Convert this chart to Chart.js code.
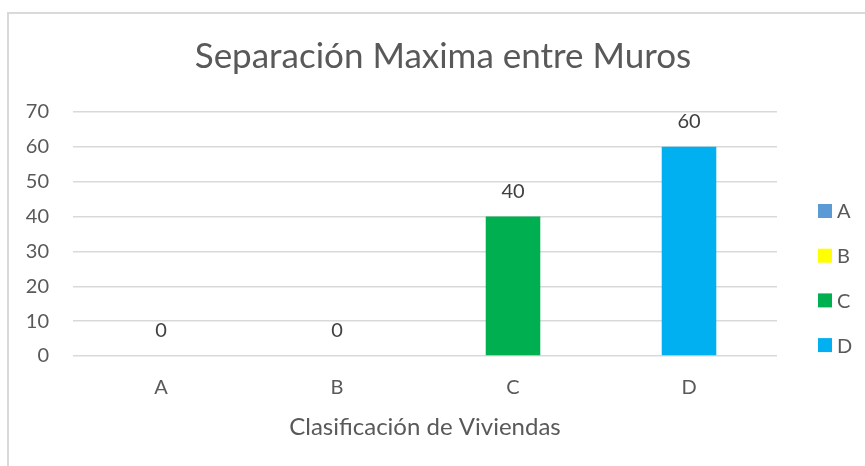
<!DOCTYPE html>
<html><head><meta charset="utf-8">
<script src="https://cdn.jsdelivr.net/npm/chart.js@4/dist/chart.umd.min.js"></script>
<style>html,body{margin:0;padding:0;background:#fff}#wrap{width:865px;height:466px;position:relative}</style>
</head><body><div id="wrap"><canvas id="c" width="865" height="466"></canvas></div>
<script>
const categories = ['A', 'B', 'C', 'D'];
const values = [0, 0, 40, 60];
const barColors = ['#5B9BD5', '#FFFF00', '#00B050', '#00B0F0'];
const yMin = 0, yMax = 70, yStep = 10;
const titleText = 'Separación Maxima entre Muros';
const xTitleText = 'Clasificación de Viviendas';

const FONT = 'Lato';
const TXT = '#595959';

const framePlugin = {
  id: 'frame',
  beforeDraw(chart) {
    const ctx = chart.ctx;
    ctx.save();
    ctx.fillStyle = '#fff';
    ctx.fillRect(0, 0, chart.width, chart.height);
    ctx.strokeStyle = '#d9d9d9';
    ctx.lineWidth = 2;
    ctx.beginPath();
    ctx.moveTo(8, chart.height);
    ctx.lineTo(8, 13);
    ctx.lineTo(chart.width, 13);
    ctx.stroke();
    ctx.restore();
  }
};

const labelPlugin = {
  id: 'dataLabels',
  afterDatasetsDraw(chart) {
    const ctx = chart.ctx;
    const meta = chart.getDatasetMeta(0);
    ctx.save();
    ctx.font = '20px ' + FONT;
    ctx.fillStyle = '#404040';
    ctx.textAlign = 'center';
    ctx.textBaseline = 'middle';
    meta.data.forEach((bar, i) => {
      ctx.fillText(String(values[i]), bar.x, bar.y - 25);
    });
    ctx.restore();
  }
};

const legendPlugin = {
  id: 'sideLegend',
  afterDraw(chart) {
    const ctx = chart.ctx;
    ctx.save();
    ctx.font = '20px ' + FONT;
    ctx.textBaseline = 'middle';
    ctx.textAlign = 'left';
    const x0 = chart.chartArea.right + 41;
    const y0 = 211;
    const gap = 44.7;
    categories.forEach((c, i) => {
      const y = y0 + i * gap;
      ctx.fillStyle = barColors[i];
      ctx.fillRect(x0, y - 7, 14, 14);
      ctx.fillStyle = TXT;
      ctx.fillText(c, x0 + 19, y + 1);
    });
    ctx.restore();
  }
};

new Chart(document.getElementById('c'), {
  type: 'bar',
  data: {
    labels: categories,
    datasets: [{
      data: values,
      backgroundColor: barColors,
      borderWidth: 0,
      categoryPercentage: 1,
      barPercentage: 0.31
    }]
  },
  options: {
    responsive: false,
    devicePixelRatio: 1,
    animation: false,
    layout: { padding: { left: 21, right: 0, top: 0, bottom: 0 } },
    plugins: {
      legend: { display: false },
      tooltip: { enabled: false },
      title: {
        display: true,
        text: titleText,
        color: TXT,
        font: { family: FONT, size: 35, weight: 'normal', lineHeight: 1.2 },
        padding: { top: 36, bottom: 34 }
      }
    },
    scales: {
      x: {
        grid: { display: false, drawTicks: false },
        border: { display: false },
        ticks: { color: TXT, font: { family: FONT, size: 20 }, padding: 20 },
        title: {
          display: true,
          text: xTitleText,
          color: TXT,
          font: { family: FONT, size: 24, lineHeight: 1.2 },
          padding: { top: 0, bottom: 24 }
        },
        afterFit(s) { s.height = 110; }
      },
      y: {
        min: yMin, max: yMax,
        ticks: { stepSize: yStep, color: TXT, font: { family: FONT, size: 20 }, padding: 24 },
        grid: { color: '#d9d9d9', lineWidth: 1.5, drawTicks: false },
        border: { display: false },
        afterFit(s) { s.width = 52; }
      },
      yRight: {
        position: 'right',
        display: true,
        grid: { display: false, drawTicks: false },
        border: { display: false },
        ticks: { display: false },
        afterFit(s) { s.width = 88; }
      }
    }
  },
  plugins: [framePlugin, labelPlugin, legendPlugin]
});
</script>
</body></html>
